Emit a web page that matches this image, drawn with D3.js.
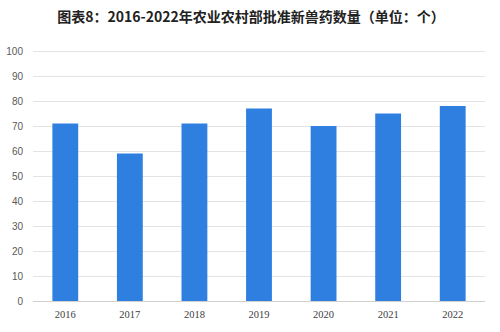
<!DOCTYPE html>
<html>
<head>
<meta charset="utf-8">
<script src="https://cdn.jsdelivr.net/npm/d3@7"></script>
<style>
body { margin: 0; background: #fff; }
</style>
</head>
<body>
<svg width="500" height="332"></svg>
<script>
var years = ["2016", "2017", "2018", "2019", "2020", "2021", "2022"];
var counts = [71, 59, 71, 77, 70, 75, 78];
var yTicks = [0, 10, 20, 30, 40, 50, 60, 70, 80, 90, 100];
var title = "图表8：2016-2022年农业农村部批准新兽药数量（单位：个）";

var svg = d3.select("svg");
var margin = {left: 33, right: 15, top: 51, bottom: 31};
var width = 500 - margin.left - margin.right, height = 332 - margin.top - margin.bottom;

svg.append("text")
  .attr("x", 251).attr("y", 22)
  .attr("text-anchor", "middle")
  .style("font-family", "'Noto Sans CJK SC'")
  .style("font-weight", "bold")
  .style("font-size", "14px")
  .style("fill", "#222")
  .text(title);

var g = svg.append("g").attr("transform", "translate(" + margin.left + "," + margin.top + ")");

var x = d3.scaleBand().domain(years).range([0, width]).paddingInner(0.6).paddingOuter(0.3);
var y = d3.scaleLinear().domain([0, 100]).range([height, 0]);

// gridlines
g.append("g")
  .selectAll("line")
  .data(yTicks)
  .enter().append("line")
  .attr("x1", 0).attr("x2", width)
  .attr("y1", function(d) { return y(d) + 0.5; })
  .attr("y2", function(d) { return y(d) + 0.5; })
  .style("stroke", function(d) { return d == 0 ? "#d0d0d0" : "#e3e3e3"; })
  .style("stroke-width", "1px");

// y labels
g.append("g")
  .selectAll("text")
  .data(yTicks)
  .enter().append("text")
  .attr("x", -10)
  .attr("y", function(d) { return y(d); })
  .attr("dy", "0.35em")
  .attr("text-anchor", "end")
  .style("font-family", "'Liberation Sans'")
  .style("font-size", "10px")
  .style("fill", "#595959")
  .text(function(d) { return d; });

// bars
g.append("g")
  .selectAll("rect")
  .data(counts)
  .enter().append("rect")
  .attr("x", function(d, i) { return x(years[i]); })
  .attr("width", x.bandwidth())
  .attr("y", function(d) { return y(d); })
  .attr("height", function(d) { return height - y(d); })
  .style("fill", "#2f7fe0");

// x labels
g.append("g")
  .selectAll("text")
  .data(years)
  .enter().append("text")
  .attr("x", function(d) { return x(d) + x.bandwidth() / 2; })
  .attr("y", height + 17)
  .attr("text-anchor", "middle")
  .style("font-family", "'Liberation Serif'")
  .style("font-size", "10.5px")
  .style("fill", "#404040")
  .text(function(d) { return d; });
</script>
</body>
</html>
